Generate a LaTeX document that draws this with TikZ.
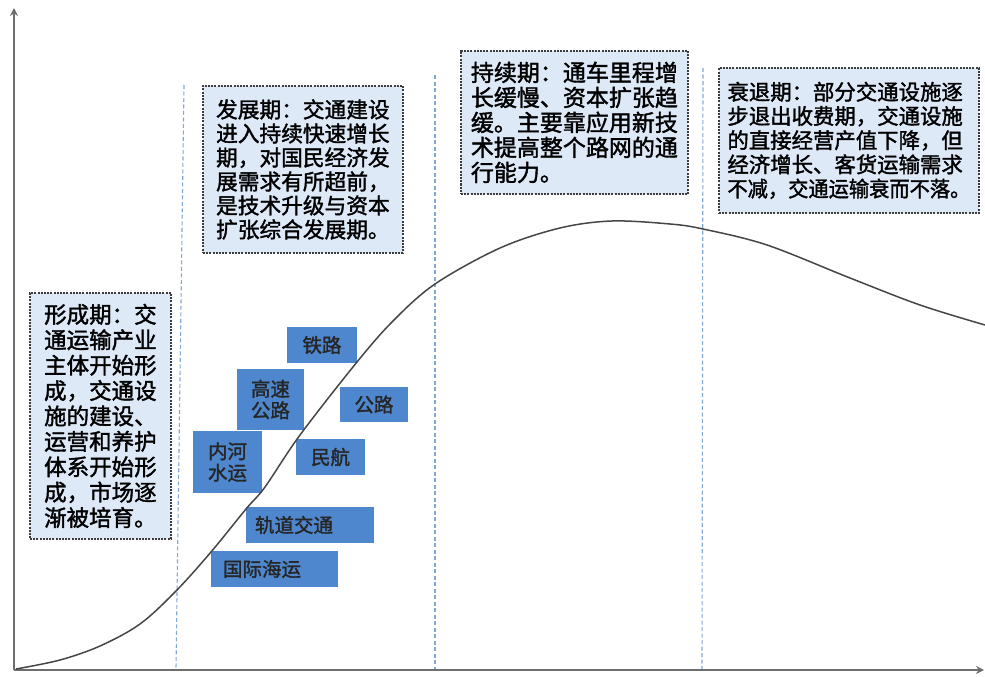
\documentclass[tikz,border=0pt]{standalone}
\usepackage{fontspec}
\usepackage{graphicx}
\setmainfont{Noto Sans CJK SC}[FakeBold=1.6]
\usetikzlibrary{arrows.meta}
\definecolor{boxfill}{RGB}{221,233,247}
\definecolor{boxedge}{RGB}{60,60,60}
\definecolor{modefill}{RGB}{78,135,205}
\definecolor{guide}{RGB}{130,168,214}
\definecolor{axiscol}{RGB}{110,110,110}
\definecolor{curvecol}{RGB}{70,70,70}
\tikzset{
  phasebox/.style={draw=boxedge, fill=boxfill, line width=1.8pt,
    dash pattern=on 2pt off 1.2pt, align=left, inner sep=0pt, anchor=north west},
  modebox/.style={fill=modefill, text=black!85, inner sep=0pt, align=center,
    font=\fontsize{19.5pt}{21.5pt}\selectfont},
  guideline/.style={draw=guide, line width=1.1pt, dash pattern=on 4pt off 2.5pt},
  axisline/.style={draw=axiscol, line width=2pt, -{Stealth[length=8pt,width=8pt]}},
}
\begin{document}
\begin{tikzpicture}[x=1pt,y=-1pt]
\path[use as bounding box] (0,0) rectangle (985,677);

% guide lines
\coordinate (g1t) at (184,85);  \coordinate (g1b) at (176,669);
\coordinate (g2t) at (435,75);  \coordinate (g2b) at (435,669);
\coordinate (g3t) at (703,68);  \coordinate (g3b) at (702,669);
\draw[guideline] (g1t) -- (g1b);
\draw[guideline] (g2t) -- (g2b);
\draw[guideline] (g3t) -- (g3b);

% axes
\coordinate (o) at (14,670);
\coordinate (ytop) at (14,8);
\coordinate (xend) at (984,670);
\draw[axisline] (o) -- (ytop);
\draw[axisline] (o) -- (xend);

% phase boxes
\node[phasebox, minimum width=141pt, minimum height=246pt,
  font=\fontsize{22.5pt}{25.4pt}\selectfont] (b1) at (29,292)
  {形成期：交\\通运输产业\\主体开始形\\成，交通设\\施的建设、\\运营和养护\\体系开始形\\成，市场逐\\渐被培育。};
\node[phasebox, minimum width=200pt, minimum height=167pt,
  font=\fontsize{21.7pt}{24pt}\selectfont] (b2) at (202,85)
  {发展期：交通建设\\进入持续快速增长\\期，对国民经济发\\展需求有所超前，\\是技术升级与资本\\扩张综合发展期。};
\node[phasebox, minimum width=227pt, minimum height=143pt,
  font=\fontsize{23pt}{25pt}\selectfont] (b3) at (460,50)
  {持续期：通车里程增\\长缓慢、资本扩张趋\\缓。主要靠应用新技\\术提高整个路网的通\\行能力。};
\node[phasebox, minimum width=260pt, minimum height=145pt,
  font=\fontsize{21.4pt}{24.2pt}\selectfont] (b4) at (718,67)
  {衰退期：部分交通设施逐\\步退出收费期，交通设施\\的直接经营产值下降，但\\经济增长、客货运输需求\\\scalebox{0.946}[1]{不减，交通运输衰而不落。}};

% transport mode boxes
\node[modebox, minimum width=70pt, minimum height=36pt] (rail) at (322,345) {铁路};
\node[modebox, minimum width=67pt, minimum height=61pt] (hwy) at (270.5,399.5) {高速\\公路};
\node[modebox, minimum width=68pt, minimum height=35pt] (road) at (374,404.5) {公路};
\node[modebox, minimum width=69pt, minimum height=62pt] (river) at (227.5,462) {内河\\水运};
\node[modebox, minimum width=69pt, minimum height=36pt] (air) at (330.5,457) {民航};
\node[modebox, minimum height=36pt, text width=110pt, inner xsep=9pt, align=left] (metro) at (310,525) {轨道交通};
\node[modebox, minimum height=36pt, text width=103pt, inner xsep=12pt, align=left] (sea) at (274.5,569) {国际海运};

% life-cycle curve
\draw[curvecol, line width=1.5pt] plot[smooth, tension=0.55] coordinates {
  (16,669) (60,660) (100,646) (140,624) (176,591) (211,552) (246,509)
  (265,487) (300,435) (357,362) (393,321) (435,284) (500,248) (560,228) (612,221)
  (670,224) (703,229) (767,245) (850,278) (920,305) (985,325)};
\end{tikzpicture}
\end{document}
